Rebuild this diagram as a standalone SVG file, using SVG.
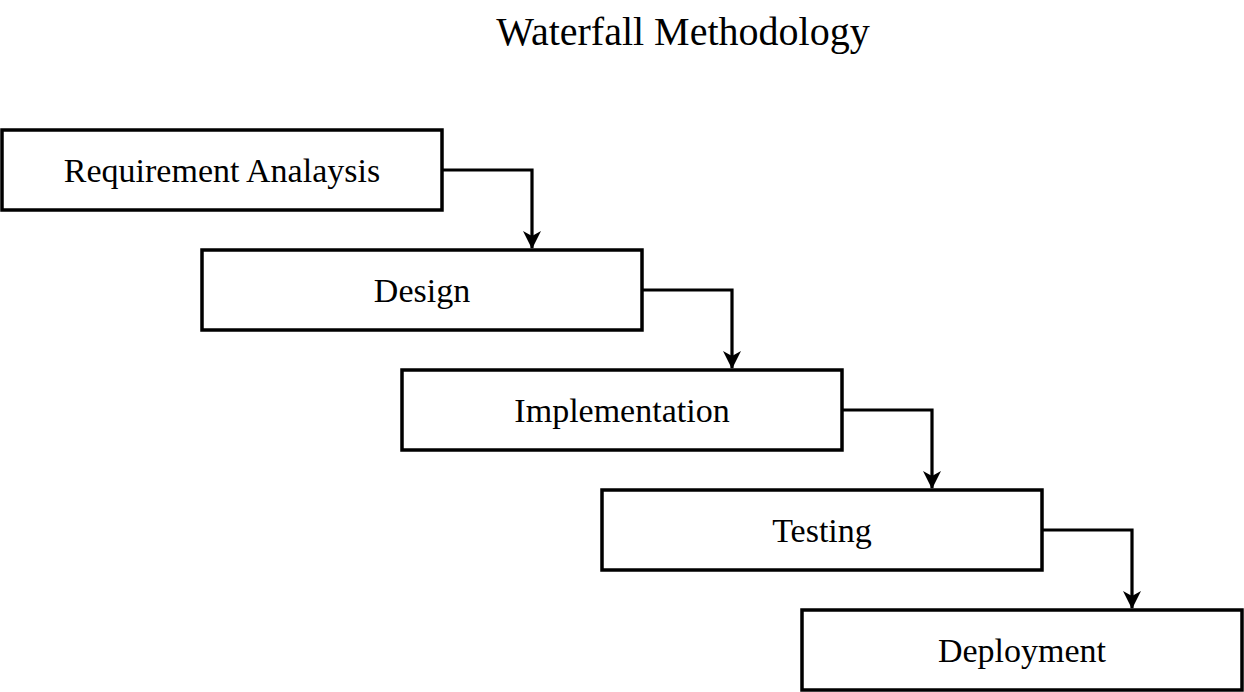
<svg xmlns="http://www.w3.org/2000/svg" width="1244" height="692" viewBox="0 0 1244 692">
<style>
.box{fill:#fff;stroke:#000;stroke-width:3.5}
.lbl{font-family:"Liberation Serif","Times New Roman",serif;font-size:34px;fill:#000;text-anchor:middle;dominant-baseline:central}
.title{font-size:40px}
.edge{fill:none;stroke:#000;stroke-width:3.2}
</style>
<defs>
<marker id="arr" markerUnits="userSpaceOnUse" markerWidth="18" markerHeight="18" viewBox="0 0 18 18" refX="17" refY="9" orient="auto">
<path d="M0,0 L18,9 L0,18 L5,9 Z" fill="#000"/>
</marker>
</defs>
<rect width="1244" height="692" fill="#fff"/>
<text class="lbl title" x="683" y="31">Waterfall Methodology</text>
<g id="connectors">
<path class="edge" d="M442,170 H532 V248" marker-end="url(#arr)"/>
<path class="edge" d="M642,290 H732 V368" marker-end="url(#arr)"/>
<path class="edge" d="M842,410 H932 V488" marker-end="url(#arr)"/>
<path class="edge" d="M1042,530 H1132 V608" marker-end="url(#arr)"/>
</g>
<g id="n1"><rect class="box" x="2" y="130" width="440" height="80"/><text class="lbl" x="222" y="170">Requirement Analaysis</text></g>
<g id="n2"><rect class="box" x="202" y="250" width="440" height="80"/><text class="lbl" x="422" y="290">Design</text></g>
<g id="n3"><rect class="box" x="402" y="370" width="440" height="80"/><text class="lbl" x="622" y="410">Implementation</text></g>
<g id="n4"><rect class="box" x="602" y="490" width="440" height="80"/><text class="lbl" x="822" y="530">Testing</text></g>
<g id="n5"><rect class="box" x="802" y="610" width="440" height="80"/><text class="lbl" x="1022" y="650">Deployment</text></g>
</svg>
